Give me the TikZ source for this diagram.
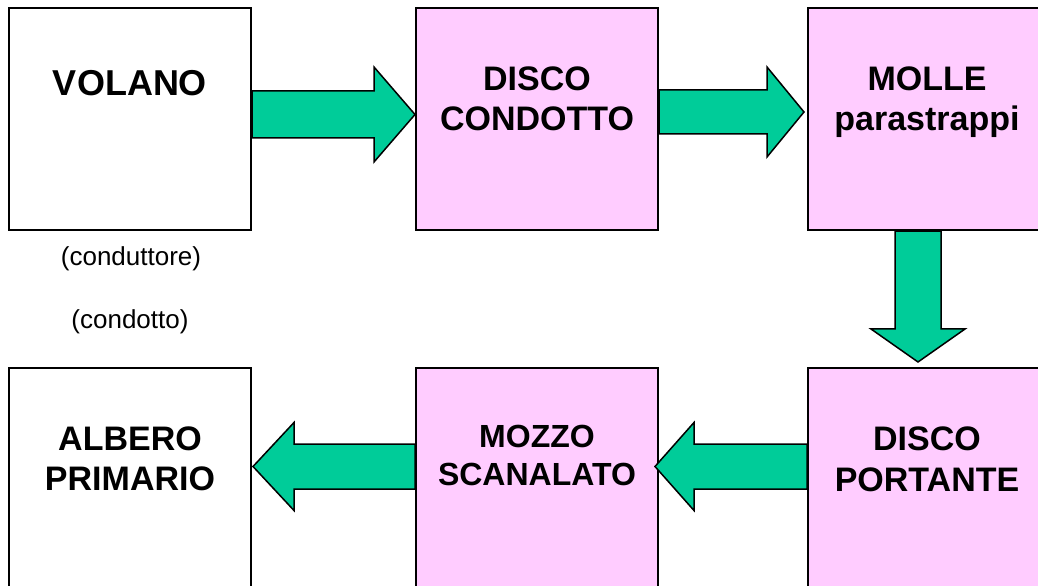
\documentclass[tikz,border=0pt]{standalone}
\usepackage{fontspec}
\setmainfont{Liberation Sans}
\usetikzlibrary{calc}

\definecolor{partpink}{HTML}{FFCCFF}
\definecolor{flowgreen}{HTML}{00CC99}

\tikzset{
  part/.style={draw=black, line width=2bp, minimum width=242bp, minimum height=222bp, inner sep=0pt},
  freepart/.style={part, fill=white},
  clutchpart/.style={part, fill=partpink},
  title/.style={anchor=north, inner sep=0pt, align=center, font=\bfseries\fontsize{34bp}{40bp}\selectfont},
  note/.style={anchor=base, inner sep=0pt, font=\fontsize{26bp}{30bp}\selectfont},
  barrow/.style={draw=black, line width=1.5bp, fill=flowgreen, line join=miter}
}

% block arrow from #1 to #2: shaft half width #3, head half width #4, head length #5
\newcommand\blockarrow[5]{%
  \coordinate (hb) at ($(#2)!#5!(#1)$);
  \draw[barrow] ($(#1)!#3!90:(#2)$) -- ($(hb)!#3!-90:(#1)$) -- ($(hb)!#4!-90:(#1)$)
    -- (#2) -- ($(hb)!#4!90:(#1)$) -- ($(hb)!#3!90:(#1)$) -- ($(#1)!#3!-90:(#2)$) -- cycle;
}

\begin{document}
\begin{tikzpicture}[x=1bp, y=-1bp]
  \useasboundingbox (0,0) rectangle (1038,586);

  % components of the clutch
  \node[freepart]   (v)  at (130,119) {};
  \node[clutchpart] (dc) at (537,119) {};
  \node[clutchpart] (ml) at (929,119) {};
  \node[freepart]   (ab) at (130,479) {};
  \node[clutchpart] (mz) at (537,479) {};
  \node[clutchpart] (dp) at (929,479) {};

  \node[title, font=\bfseries\fontsize{36bp}{40bp}\selectfont] (tv) at (130,70) {VOLANO};
  \node[title] (tdc) at (537,67) {DISCO\\CONDOTTO};
  \node[title] (tml) at (927,67) {MOLLE\\parastrappi};
  \node[title] (tab) at (130,427) {ALBERO\\PRIMARIO};
  \node[title, font=\bfseries\fontsize{32bp}{38bp}\selectfont] (tmz) at (537,425) {MOZZO\\SCANALATO};
  \node[title, font=\bfseries\fontsize{34bp}{41bp}\selectfont] (tdp) at (927,427) {DISCO\\PORTANTE};

  \node[note] (n1) at (131,266) {(conduttore)};
  \node[note] (n2) at (130,328) {(condotto)};

  % path of the torque
  \coordinate (a1s) at ([yshift=4.5bp]v.east);
  \coordinate (a1e) at ([yshift=4.5bp]dc.west);
  \blockarrow{a1s}{a1e}{23.5bp}{47.5bp}{41bp}

  \coordinate (a2s) at ([yshift=7bp]dc.east);
  \coordinate (a2e) at ([xshift=-3bp,yshift=7bp]ml.west);
  \blockarrow{a2s}{a2e}{22bp}{45bp}{37bp}

  \coordinate (a3s) at ([xshift=-11bp]ml.south);
  \coordinate (a3e) at ([xshift=-11bp,yshift=5bp]dp.north);
  \blockarrow{a3s}{a3e}{23bp}{47bp}{33bp}

  \coordinate (a4s) at ([yshift=12.5bp]dp.west);
  \coordinate (a4e) at ([xshift=-4bp,yshift=12.5bp]mz.east);
  \blockarrow{a4s}{a4e}{22.5bp}{44bp}{39bp}

  \coordinate (a5s) at ([yshift=12.5bp]mz.west);
  \coordinate (a5e) at ([xshift=1bp,yshift=12.5bp]ab.east);
  \blockarrow{a5s}{a5e}{22.5bp}{44bp}{41bp}
\end{tikzpicture}
\end{document}
